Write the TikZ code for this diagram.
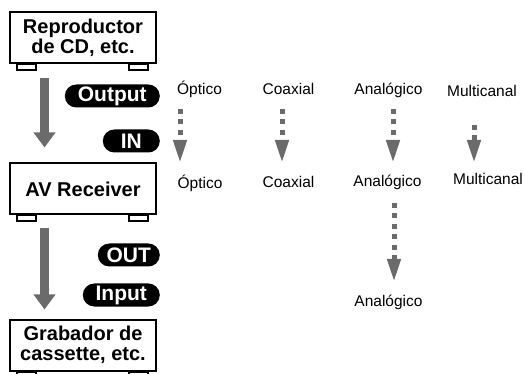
\documentclass[tikz,border=0pt]{standalone}
\usepackage{fontspec}
\setmainfont{Liberation Sans}
\usetikzlibrary{arrows.meta,positioning,calc}
\definecolor{arrowgray}{HTML}{6B6B6B}
\newcommand{\devfeet}[1]{%
  \foreach \dx in {8,120}
    \draw[line width=2pt, fill=white] ($(#1.south west)+(\dx,0)$) rectangle ++(19,6);}

\begin{document}
\begin{tikzpicture}[
  x=1pt, y=-1pt,
  devbox/.style={draw, line width=2pt, fill=white, minimum width=146pt, minimum height=51pt,
    align=center, inner sep=0pt, font=\fontsize{20}{19.5}\selectfont\bfseries},
  pill/.style={fill=black, text=white, rounded corners=11.5pt, minimum height=23pt, inner sep=0pt,
    anchor=east, font=\fontsize{21}{21}\selectfont\bfseries},
  sig/.style={anchor=base, inner sep=0pt, font=\fontsize{15.5}{18}\selectfont},
  bigarrow/.style={arrowgray, line width=9pt, -{Triangle[width=21pt,length=15pt]}},
  dotarrow/.style={arrowgray, line width=5pt, dash pattern=on 5pt off 5.5pt,
    -{Triangle[width=12.7pt,length=23pt]}}
]
  \useasboundingbox (0,0) rectangle (525,374);

  % Devices
  \node[devbox] (cd) at (83,38) {Reproductor\\de CD, etc.};
  \devfeet{cd}
  \node[devbox] (avr) at (83,189) {AV Receiver};
  \devfeet{avr}
  \node[devbox] (tape) at (83,345) {Grabador de\\cassette, etc.};
  \devfeet{tape}

  % Terminals
  \node[pill, minimum width=95pt] (outp) at (160,96) {Output};
  \node[pill, minimum width=57pt] (inp) at (160,141) {IN};
  \node[pill, minimum width=62pt] (outr) at (160,255) {OUT};
  \node[pill, minimum width=77pt] (inr) at (160,295) {Input};

  % Signal flow
  \draw[bigarrow] ($(cd.south west)+(35.5,14)$) -- ($(avr.north west)+(35.5,-15)$);
  \draw[bigarrow] ($(avr.south west)+(35.5,13)$) -- ($(tape.north west)+(35.5,-9)$);

  % Signal types
  \node[sig] (opt1) at (199.5,94.3) {Óptico};
  \node[sig] (coa1) at (288.5,95) {Coaxial};
  \node[sig] (ana1) at (388.5,94.5) {Analógico};
  \node[sig] (mul1) at (482,96.7) {Multicanal};
  \node[sig] (opt2) at (200,188.7) {Óptico};
  \node[sig] (coa2) at (288.5,187.3) {Coaxial};
  \node[sig] (ana2) at (387.5,186.3) {Analógico};
  \node[sig] (mul2) at (488,184.7) {Multicanal};
  \node[sig] (ana3) at (388.5,306.3) {Analógico};

  % Dotted arrows
  \draw[dotarrow] ([shift={(-19.5,14.7)}]opt1.base) -- ([shift={(-20,-25.7)}]opt2.base);
  \draw[dotarrow] ([shift={(-6.5,14)}]coa1.base) -- ([shift={(-6.5,-24.3)}]coa2.base);
  \draw[dotarrow] ([shift={(4.5,14.5)}]ana1.base) -- ([shift={(5.5,-23.3)}]ana2.base);
  \draw[dotarrow] ([shift={(-8,28.3)}]mul1.base) -- ([shift={(-14,-21.7)}]mul2.base);
  \draw[dotarrow] ([shift={(6.5,16.7)}]ana2.base) -- ([shift={(5.5,-24.3)}]ana3.base);
\end{tikzpicture}
\end{document}
